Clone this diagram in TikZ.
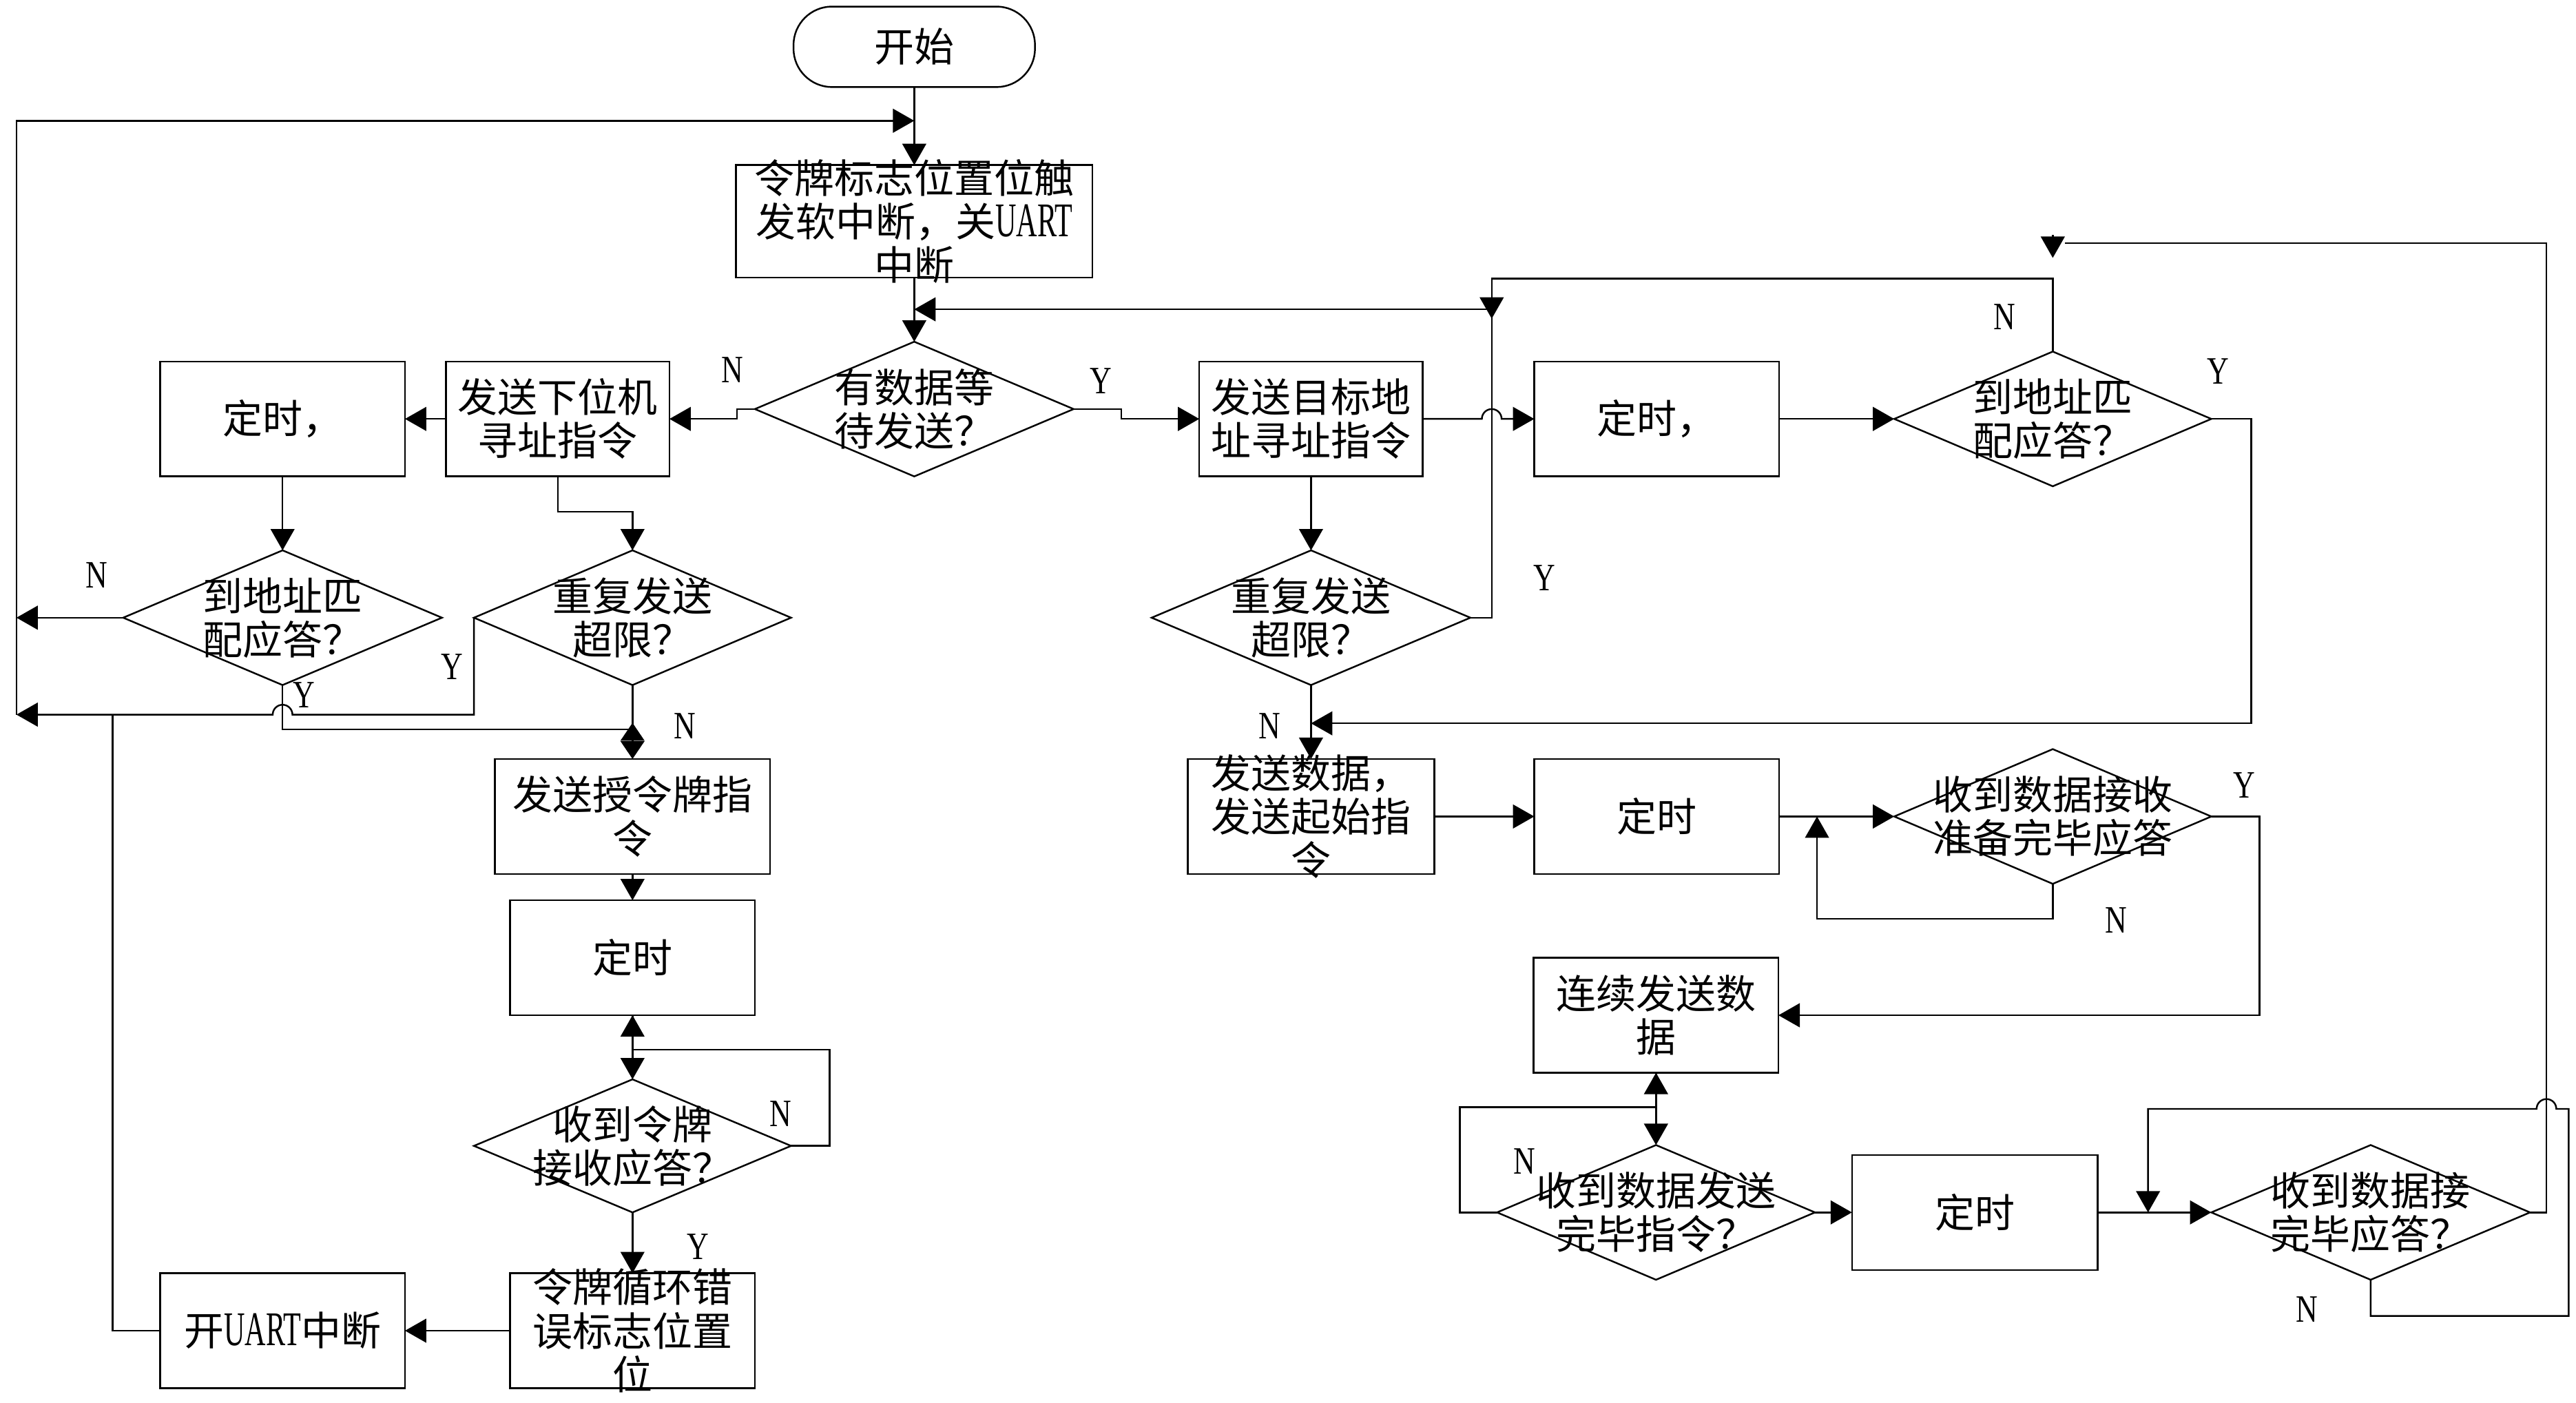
\documentclass[tikz,border=0pt]{standalone}
\usepackage{fontspec}
\usepackage{graphicx}
\setmainfont{Noto Sans CJK SC}
\newfontfamily\latf{Liberation Serif}
\usetikzlibrary{arrows.meta,shapes.geometric}
\newcommand\Lat[1]{{\latf\fontsize{20}{18}\selectfont\scalebox{0.6}[1]{#1}}}
\newcommand\YN[1]{{\latf\fontsize{16}{16}\selectfont\scalebox{0.78}[1]{#1}}}
\begin{document}
\begin{tikzpicture}[x=0.23852mm,y=-0.23852mm,
  ln/.style={line width=0.7pt},
  shp/.style={draw,line width=0.7pt,inner sep=0pt,outer sep=0pt},
  box/.style 2 args={shp,rectangle,minimum width={#1*0.23852mm},minimum height={#2*0.23852mm}},
  dia/.style 2 args={shp,diamond,minimum width={#1*0.23852mm},minimum height={#2*0.23852mm}},
  txt/.style={align=center,inner sep=0pt,font=\fontsize{16.5}{18}\selectfont},
  yn/.style={inner sep=0pt},
  arr/.style={-{Triangle[length=3.1mm,width=3.46mm]}},
  arrs/.style={-{Triangle[length=2.6mm,width=3.46mm]}}]
\fill[white] (0,0) rectangle (1568,854);
\useasboundingbox (0,0) rectangle (1568,854);

% ---------- nodes ----------
\node[shp,rectangle,rounded corners=5.6mm,minimum width={147*0.23852mm},minimum height={49*0.23852mm},txt] (start) at (556.5,28.5) {开始};
\node[box={217}{68.5},label={[txt]center:{令牌标志位置位触\\发软中断，关\Lat{UART}\\中断}}] (b1) at (556.5,134.75) {};
\node[dia={194}{82},label={[txt]center:{有数据等\\待发送？}}] (dq) at (556.5,249) {};

\node[box={136}{70},label={[txt]center:{发送下位机\\寻址指令}}] (xia) at (339.5,255) {};
\node[box={149}{70},label={[txt]center:{定时，}}] (t1) at (172,255) {};
\node[dia={194}{82},label={[txt]center:{到地址匹\\配应答？}}] (aL) at (172,376) {};
\node[dia={193}{82},label={[txt]center:{重复发送\\超限？}}] (rL) at (385,376) {};
\node[box={167.5}{70},label={[txt]center:{发送授令牌指\\令}}] (tok) at (385,497) {};
\node[box={149}{70},label={[txt]center:{定时}}] (t2) at (385,583) {};
\node[dia={193}{81},label={[txt]center:{收到令牌\\接收应答？}}] (dtok) at (385,697.5) {};
\node[box={149}{70},label={[txt]center:{令牌循环错\\误标志位置\\位}}] (err) at (385,810) {};
\node[box={149}{70},label={[txt]center:{开\Lat{UART}中断}}] (uart) at (172,810) {};

\node[box={136}{70},label={[txt]center:{发送目标地\\址寻址指令}}] (mb) at (798,255) {};
\node[box={149}{70},label={[txt]center:{定时，}}] (t3) at (1008.4,255) {};
\node[dia={193}{82},label={[txt]center:{到地址匹\\配应答？}}] (aR) at (1249.5,255) {};
\node[dia={194}{82},label={[txt]center:{重复发送\\超限？}}] (rR) at (798,376) {};
\node[box={150}{70},label={[txt]center:{发送数据，\\发送起始指\\令}}] (db) at (798,497) {};
\node[box={149}{70},label={[txt]center:{定时}}] (t4) at (1008.4,497) {};
\node[dia={193}{82},label={[txt]center:{收到数据接收\\准备完毕应答}}] (dr) at (1249.5,497) {};
\node[box={149}{70},label={[txt]center:{连续发送数\\据}}] (lx) at (1008,618) {};
\node[dia={193.5}{82},label={[txt]center:{收到数据发送\\完毕指令？}}] (ds) at (1008,738) {};
\node[box={149.5}{70},label={[txt]center:{定时}}] (t5) at (1202,738) {};
\node[dia={194}{82},label={[txt]center:{收到数据接\\完毕应答？}}] (df) at (1443,738) {};

% ---------- coordinates ----------
\coordinate (c1) at (10,435);
\coordinate (j1) at (556.5,73.5);
\coordinate (c2) at (68.5,435);
\coordinate (c3) at (385,444);
\coordinate (c4) at (385,451);
\coordinate (c5) at (385,440);
\coordinate (c6) at (505,639);
\coordinate (c7) at (908,188.3);
\coordinate (c8) at (908,169.5);
\coordinate (c9) at (908,194);
\coordinate (c10) at (1370.4,440.3);
\coordinate (c11) at (1106,559.3);
\coordinate (c12) at (1375.4,497);
\coordinate (c13) at (888.5,674);
\coordinate (c14) at (1563.5,801);
\coordinate (c14b) at (1563.5,675);
\coordinate (c15) at (1307.5,675);
\coordinate (c16) at (1550,148);
\coordinate (c17) at (1257,148);
\coordinate (c18) at (1249.5,143);
\coordinate (c19) at (1249.5,157);

% ---------- connectors ----------
\draw[ln,arr] (start.south) -- (b1.north);
\draw[ln,arr] (b1.south) -- (dq.north);
\draw[ln,arr] (c1) |- (j1);
\draw[ln,arr] (rL.west) -- ++(0,59) -- (178,435) arc[start angle=0,end angle=-180,radius=6] -- (c1);
\draw[ln,arr] (aL.west) -- (aL.west -| c1);
\draw[ln] (uart.west) -| (c2);
\draw[ln] (aL.south) |- (c3);
\draw[ln,arrs] (c4) -- (c5);
\draw[ln,arrs] (rL.south) -- (tok.north);
\draw[ln,arr] (xia.south) -- ++(0,21.6) -| (rL.north);
\draw[ln,arr] (dq.west) -- ++(-11,0) |- (xia.east);
\draw[ln,arr] (dq.east) -- ++(29,0) |- (mb.west);
\draw[ln,arr] (xia.west) -- (t1.east);
\draw[ln,arr] (t1.south) -- (aL.north);
\draw[ln,arr] (tok.south) -- (t2.north);
\draw[ln,arr] (t2.south) -- (dtok.north);
\draw[ln,arr] (dtok.east) -| (c6) -- (t2.south |- c6) -- (t2.south);
\draw[ln,arr] (dtok.south) -- (err.north);
\draw[ln,arr] (err.west) -- (uart.east);

\draw[ln,arr] (mb.south) -- (rR.north);
\draw[ln,arr] (rR.south) -- (db.north);
\draw[ln,arr] (rR.east) -| (c7) -- (c7 -| b1.south);
\draw[ln,arr] (aR.north) |- (c8) -- (c9);
\draw[ln,arr] (mb.east) -- (902,255) arc[start angle=180,end angle=360,radius=6] -- (t3.west);
\draw[ln,arr] (t3.east) -- (aR.west);
\draw[ln,arr] (aR.east) -| (c10) -- (c10 -| rR.south);
\draw[ln,arr] (db.east) -- (t4.west);
\draw[ln,arr] (t4.east) -- (dr.west);
\draw[ln,arr] (dr.south) |- (c11) -- (c11 |- dr.west);
\draw[ln,arr] (dr.east) -- (c12) |- (lx.east);
\draw[ln,arr] (lx.south) -- (ds.north);
\draw[ln,arr] (ds.west) -| (c13) -- (c13 -| lx.south) -- (lx.south);
\draw[ln,arr] (ds.east) -- (t5.west);
\draw[ln,arr] (t5.east) -- (df.west);
\draw[ln,arr] (df.south) |- (c14) -- (c14b) -- (1556,675) arc[start angle=0,end angle=-180,radius=6] -- (c15) -- (c15 |- df.west);
\draw[ln] (df.east) -| (c16) -- (c17);
\draw[ln,arr] (c18) -- (c19);

% ---------- Y / N labels ----------
\node[yn] (l1) at (446,225) {\YN{N}};
\node[yn] (l2) at (670,232) {\YN{Y}};
\node[yn] (l3) at (59,350) {\YN{N}};
\node[yn] (l4) at (275,406) {\YN{Y}};
\node[yn] (l5) at (185,423) {\YN{Y}};
\node[yn] (l6) at (417,442) {\YN{N}};
\node[yn] (l7) at (475,678) {\YN{N}};
\node[yn] (l8) at (425,759) {\YN{Y}};
\node[yn] (l9) at (1220,193) {\YN{N}};
\node[yn] (l10) at (1350,226) {\YN{Y}};
\node[yn] (l11) at (940,352) {\YN{Y}};
\node[yn] (l12) at (773,442) {\YN{N}};
\node[yn] (l13) at (1366,478) {\YN{Y}};
\node[yn] (l14) at (1288,560) {\YN{N}};
\node[yn] (l15) at (928,707) {\YN{N}};
\node[yn] (l16) at (1404,797) {\YN{N}};
\end{tikzpicture}
\end{document}
